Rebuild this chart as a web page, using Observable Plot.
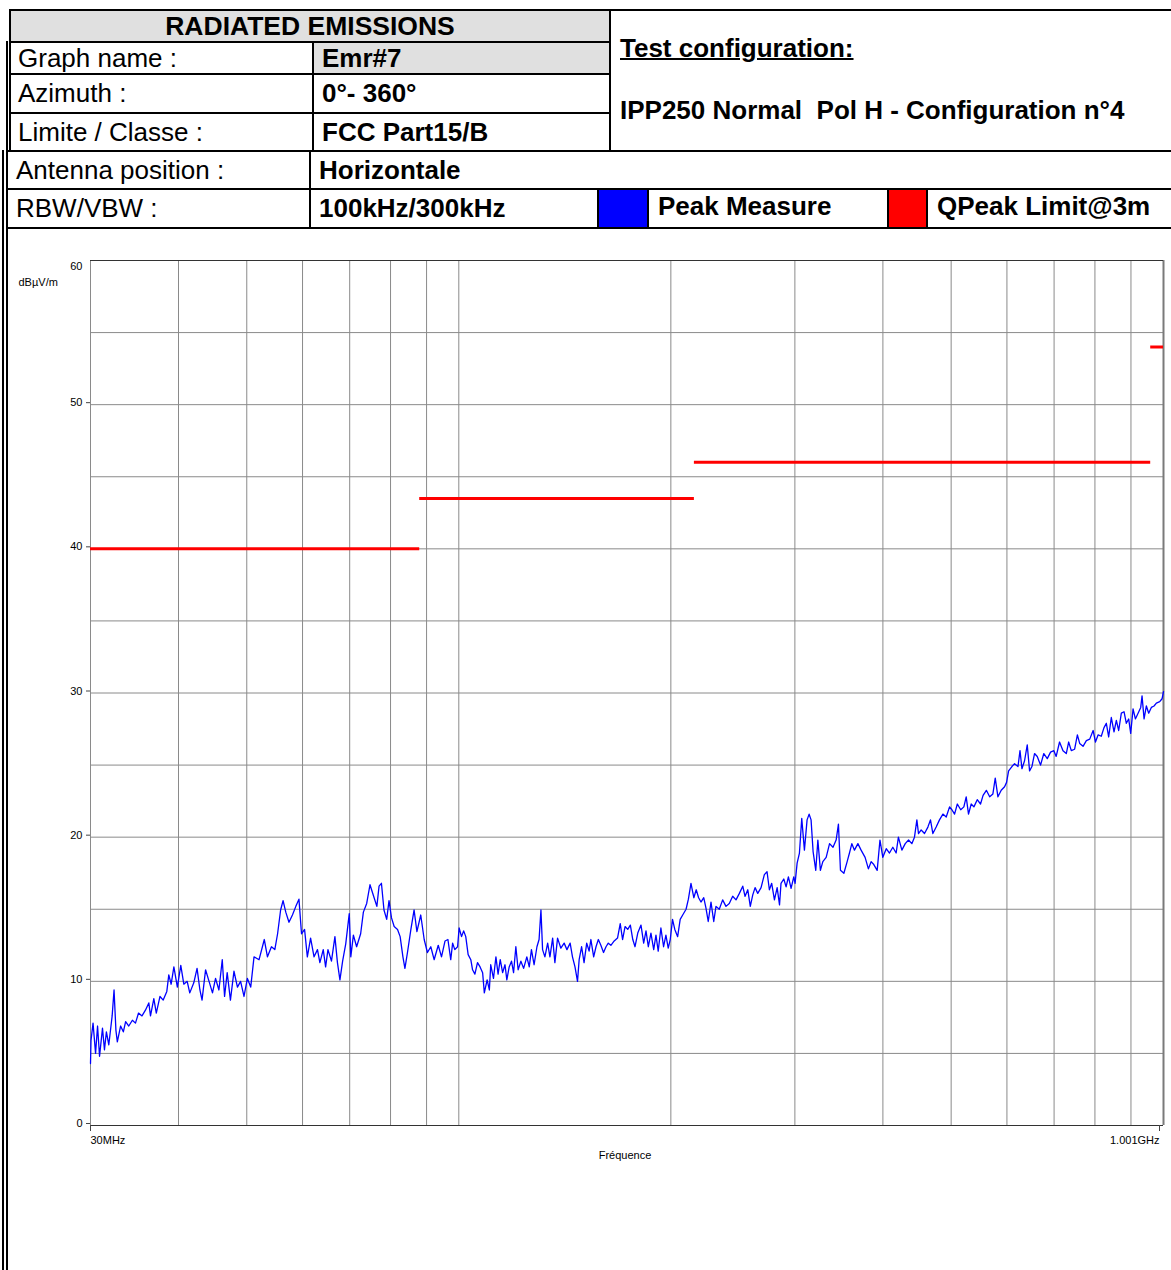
<!DOCTYPE html>
<html>
<head>
<meta charset="utf-8">
<script src="https://cdn.jsdelivr.net/npm/d3@7"></script>
<script src="https://cdn.jsdelivr.net/npm/@observablehq/plot@0.6"></script>
<style>
html, body { margin: 0; padding: 0; background: #fff; }
#page { position: relative; width: 1171px; height: 1270px; overflow: hidden; font-family: "Liberation Sans", Arial, sans-serif; color: #000; }
.c { position: absolute; box-sizing: border-box; border: 2px solid #000; display: flex; align-items: center; font-size: 26px; white-space: pre; overflow: hidden; padding-left: 7px; background: #fff; }
.b { font-weight: bold; }
.g { background: #e0e0e0; }
.v { padding-left: 8px; }
.line { position: absolute; background: #000; }
#chart { position: absolute; left: 0; top: 230px; }
</style>
</head>
<body>
<div id="page">
  <div class="c b g" style="left:9px;top:9px;width:602px;height:34px;justify-content:center;padding-left:0;font-size:26.5px;">RADIATED EMISSIONS</div>
  <div class="c" style="left:9px;top:41px;width:305px;height:34px;">Graph name :</div>
  <div class="c b g v" style="left:312px;top:41px;width:299px;height:34px;">Emr#7</div>
  <div class="c" style="left:9px;top:73px;width:305px;height:41px;">Azimuth :</div>
  <div class="c b v" style="left:312px;top:73px;width:299px;height:41px;">0°- 360°</div>
  <div class="c" style="left:9px;top:112px;width:305px;height:40px;">Limite / Classe :</div>
  <div class="c b v" style="left:312px;top:112px;width:299px;height:40px;">FCC Part15/B</div>
  <div class="c b" style="left:609px;top:9px;width:600px;height:143px;display:block;padding:0;">
    <span style="position:absolute;left:9px;top:22px;text-decoration:underline;text-decoration-thickness:2px;">Test configuration:</span>
    <span style="position:absolute;left:9px;top:84px;">IPP250 Normal  Pol H - Configuration n°4</span>
  </div>
  <div class="line" style="left:6px;top:41px;width:2px;height:111px;"></div>

  <div class="c" style="left:6px;top:150px;width:305px;height:40px;padding-left:8px;">Antenna position :</div>
  <div class="c b v" style="left:309px;top:150px;width:900px;height:40px;">Horizontale</div>
  <div class="c" style="left:6px;top:188px;width:305px;height:41px;padding-left:8px;">RBW/VBW :</div>
  <div class="c b v" style="left:309px;top:188px;width:290px;height:41px;">100kHz/300kHz</div>
  <div class="c" style="left:597px;top:188px;width:52px;height:41px;background:#0000ff;"></div>
  <div class="c b" style="left:647px;top:188px;width:242px;height:41px;padding-left:9px;padding-bottom:4px;">Peak Measure</div>
  <div class="c" style="left:887px;top:188px;width:41px;height:41px;background:#ff0000;"></div>
  <div class="c b" style="left:926px;top:188px;width:300px;height:41px;padding-left:9px;padding-bottom:4px;">QPeak Limit@3m</div>
  <div class="line" style="left:2px;top:150px;width:2px;height:1120px;"></div>
  <div class="line" style="left:6px;top:150px;width:2px;height:1120px;"></div>
  <div id="chart"></div>
</div>
<script>
// Vertical grid frequencies (MHz) and horizontal grid levels (dBµV/m)
const gridFreqs = [40, 50, 60, 70, 80, 90, 100, 200, 300, 400, 500, 600, 700, 800, 900];
const gridLevels = [5, 10, 15, 20, 25, 30, 35, 40, 45, 50, 55];
const levelTicks = [0, 10, 20, 30, 40, 50];
const topTick = [60];
const freqStart = 30;
const freqStop = 1001;
const startLabel = "30MHz";
const stopLabel = "1.001GHz";

// QPeak limit @3m (FCC Part15/B)
const limitFromMHz = [30, 88, 216, 960];
const limitToMHz = [88, 216, 960, 1001];
const limitDb = [40, 43.5, 46, 54];

// Peak Measure trace: [frequency MHz, level dBµV/m]
const peakPoints = [
[30.0,4.3],[30.05,5.9],[30.25,7.1],[30.5,5.0],[30.7,6.9],[30.9,4.8],[31.2,6.75],[31.4,5.25],[31.6,6.5],[31.85,5.6],
[32.2,7.6],[32.4,9.4],[32.6,6.6],[32.75,5.8],[33.1,6.9],[33.4,6.5],[33.65,7.2],[34.0,6.9],[34.4,7.3],[34.75,7.1],
[35.1,7.8],[35.5,7.6],[35.9,8.0],[36.3,8.5],[36.5,7.6],[36.9,8.8],[37.2,7.8],[37.65,8.95],[38.05,8.7],[38.5,9.3],
[38.75,10.45],[39.05,9.8],[39.4,11.0],[39.85,9.6],[40.3,11.1],[40.7,9.8],[41.15,10.0],[41.5,9.2],[42.05,9.9],[42.5,10.9],
[42.9,9.4],[43.2,8.7],[43.7,10.8],[44.2,10.0],[44.7,9.2],[45.15,10.2],[45.65,9.4],[46.15,11.5],[46.5,8.95],[46.9,10.6],
[47.4,8.7],[47.95,10.7],[48.5,9.6],[49.0,10.0],[49.55,8.95],[50.1,10.2],[50.65,9.6],[51.2,11.7],[52.05,11.5],[52.95,12.9],
[53.5,11.7],[54.2,12.4],[54.8,12.2],[55.3,13.3],[55.85,14.95],[56.3,15.6],[56.8,14.8],[57.4,14.1],[58.05,14.6],[58.7,15.2],
[59.3,15.7],[59.8,13.3],[60.4,13.6],[60.95,11.7],[61.6,13.0],[62.3,11.7],[63.0,12.2],[63.5,11.3],[64.2,12.2],[64.7,11.0],
[65.2,12.2],[65.95,11.4],[66.7,13.1],[67.25,11.3],[67.8,10.1],[68.4,11.4],[69.1,12.6],[69.9,14.7],[70.25,11.7],[70.85,13.2],
[71.6,12.4],[72.55,13.3],[73.2,14.8],[74.0,15.4],[74.8,16.7],[75.7,15.9],[76.5,15.2],[77.05,16.6],[77.65,16.8],[78.3,14.95],
[79.0,14.3],[79.6,15.6],[80.25,14.4],[80.95,13.8],[81.85,13.6],[82.55,13.1],[83.3,11.7],[83.85,10.9],[84.55,12.0],[85.5,13.6],
[86.4,14.95],[87.2,13.45],[88.3,14.6],[89.3,12.9],[90.25,12.0],[91.25,12.4],[92.25,11.5],[93.5,12.5],[94.5,11.7],[95.6,12.8],
[96.5,12.9],[97.4,11.5],[98.0,12.65],[98.7,12.2],[99.6,12.4],[100.1,13.7],[100.9,13.1],[101.6,13.5],[102.3,13.1],[103.1,11.85],
[104.0,11.5],[104.6,10.8],[105.4,10.5],[106.3,11.3],[107.2,11.0],[108.1,10.6],[108.7,9.2],[109.7,10.1],[110.5,9.4],[111.0,11.15],
[112.0,10.2],[112.9,11.7],[113.7,10.5],[114.5,11.5],[115.4,10.6],[116.3,11.15],[117.0,10.1],[117.9,11.0],[118.8,11.4],[119.6,10.6],
[120.5,12.4],[121.4,10.8],[122.5,11.4],[123.6,10.9],[124.9,11.7],[125.9,11.0],[126.8,12.2],[127.9,11.15],[129.1,12.4],[130.0,12.9],
[130.8,14.95],[131.5,12.2],[132.5,11.7],[133.7,12.65],[134.7,11.7],[135.9,13.0],[136.9,11.3],[138.1,13.0],[139.6,12.3],[141.1,12.65],
[142.4,12.2],[143.9,12.65],[145.0,11.7],[146.2,11.0],[147.4,10.0],[148.2,11.5],[149.4,12.4],[150.6,11.3],[151.9,12.65],[153.1,12.1],
[154.0,12.9],[155.4,11.7],[156.6,12.4],[157.8,12.9],[159.1,12.5],[160.5,12.0],[161.8,12.4],[163.0,12.65],[164.4,12.5],[166.2,12.8],
[168.0,13.0],[169.5,14.0],[170.8,12.9],[172.2,13.8],[173.7,13.6],[175.2,13.9],[176.6,12.9],[177.9,12.4],[179.5,13.35],[181.4,13.9],
[183.0,12.65],[184.4,13.5],[185.8,12.4],[187.4,13.35],[189.1,12.2],[190.5,13.2],[191.9,12.1],[193.6,13.7],[195.3,12.4],[196.8,13.2],
[198.3,12.3],[199.6,12.9],[201.1,14.3],[202.6,13.6],[204.5,13.1],[206.2,14.3],[207.9,14.6],[210.2,15.0],[211.8,15.7],[213.6,16.8],
[215.6,15.8],[217.3,16.35],[219.0,15.8],[220.7,15.5],[222.7,15.8],[224.3,15.1],[226.0,14.15],[228.05,15.5],[230.1,14.15],[231.8,15.2],
[234.3,15.0],[236.9,15.65],[239.5,15.2],[242.1,15.4],[244.8,15.9],[247.5,15.65],[250.2,16.1],[253.0,16.6],[254.9,15.9],[257.2,16.35],
[259.3,15.2],[261.4,16.0],[263.4,16.5],[265.7,16.1],[268.6,16.5],[271.5,17.4],[273.9,17.6],[276.0,16.35],[278.1,16.8],[280.6,15.65],
[283.1,16.5],[285.3,15.3],[286.7,16.8],[289.3,17.1],[291.5,16.55],[293.7,17.25],[296.3,16.45],[298.9,17.25],[300.2,16.8],[302.2,18.2],
[304.5,18.9],[306.8,21.3],[309.5,19.1],[312.2,21.2],[314.3,21.6],[316.3,21.2],[318.4,19.0],[321.2,17.7],[323.4,19.8],[326.1,17.7],
[328.7,18.3],[332.3,18.6],[336.0,19.55],[339.8,19.3],[343.3,19.8],[345.9,20.9],[348.2,17.7],[352.1,17.5],[355.9,18.3],[358.6,18.9],
[361.4,19.55],[364.5,19.1],[368.6,19.55],[372.5,19.1],[377.4,18.6],[381.5,17.8],[384.9,18.3],[388.3,18.1],[392.6,17.7],[396.2,19.8],
[399.9,18.6],[404.4,19.2],[408.7,18.9],[413.2,19.3],[417.7,18.9],[420.8,20.0],[425.6,19.1],[430.3,19.55],[435.0,19.8],[439.7,19.55],
[443.5,20.0],[447.0,21.2],[449.4,20.25],[453.3,20.5],[458.3,20.25],[463.4,20.7],[467.3,21.2],[471.0,20.25],[476.1,20.7],[481.3,21.2],
[486.7,21.6],[492.0,21.4],[497.4,22.1],[501.2,21.9],[505.6,21.6],[510.2,22.3],[515.9,21.9],[521.2,22.1],[525.2,22.8],[529.2,21.6],
[533.9,22.3],[538.6,22.1],[544.5,22.6],[550.4,22.3],[555.0,22.9],[561.0,23.25],[567.1,22.8],[573.1,23.0],[577.5,24.1],[582.6,22.8],
[588.9,23.25],[595.4,23.5],[599.3,23.8],[603.3,24.6],[609.9,24.9],[615.2,25.1],[622.1,24.9],[626.2,26.0],[630.2,24.75],[635.6,25.3],
[641.2,26.4],[646.1,24.6],[651.1,24.9],[656.7,25.8],[662.5,25.6],[669.7,25.0],[676.9,25.8],[684.6,25.45],[692.0,25.9],[699.5,26.0],
[704.8,25.6],[712.6,26.6],[720.7,26.0],[728.5,25.8],[734.1,26.6],[740.5,26.0],[748.6,26.1],[755.4,27.1],[761.1,26.5],[769.5,26.3],
[777.9,26.7],[786.5,26.8],[795.3,27.4],[801.4,26.6],[808.5,27.1],[816.8,27.0],[824.1,27.6],[830.4,27.9],[836.7,26.95],[844.0,28.3],
[851.5,27.3],[858.0,28.1],[864.6,27.4],[872.1,28.6],[879.8,28.7],[886.5,27.9],[893.3,28.2],[899.2,27.2],[906.2,28.9],[913.1,28.2],
[921.2,28.6],[929.2,29.0],[933.2,29.8],[939.4,28.2],[946.5,29.1],[953.7,28.6],[962.0,29.0],[970.6,29.1],[977.9,29.3],[988.7,29.4],
[996.3,29.6],[1001,30.1]
];

const limits = limitDb.map((db, i) => ({f1: limitFromMHz[i], f2: limitToMHz[i], db}));

const axisStyle = {tickSize: 4, tickPadding: 4, stroke: "#444", fill: "#000", label: null, fontSize: 11};

const chart = Plot.plot({
  width: 1171,
  height: 1040,
  marginLeft: 90,
  marginRight: 8,
  marginTop: 30,
  marginBottom: 145,
  style: {fontFamily: "'Liberation Sans', Arial, sans-serif", fontSize: "11px", background: "transparent", color: "#000"},
  x: {type: "log", domain: [freqStart, freqStop]},
  y: {domain: [0, 60]},
  marks: [
    Plot.ruleX(gridFreqs, {stroke: "#8a8a8a", strokeWidth: 1}),
    Plot.ruleY(gridLevels, {stroke: "#8a8a8a", strokeWidth: 1}),
    Plot.ruleX([freqStart], {stroke: "#8a8a8a", strokeWidth: 1}),
    Plot.ruleX([freqStop], {stroke: "#7a7a7a", strokeWidth: 2}),
    Plot.ruleY([60], {stroke: "#333", strokeWidth: 1}),
    Plot.ruleY([0], {stroke: "#333", strokeWidth: 1}),
    Plot.axisY(levelTicks, {...axisStyle, dy: -2}),
    Plot.axisY(topTick, {...axisStyle, tickSize: 0, tickPadding: 8, dy: 6}),
    Plot.axisX([freqStart], {tickSize: 6, tickPadding: 5, stroke: "#444", fill: "#000", tickFormat: () => startLabel, textAnchor: "start", label: null, fontSize: 11}),
    Plot.axisX([freqStop], {tickSize: 6, tickPadding: 5, stroke: "#444", fill: "#000", tickFormat: () => stopLabel, textAnchor: "end", dx: -4, label: null, fontSize: 11}),
    Plot.text(["Fréquence"], {text: d => d, frameAnchor: "bottom", dy: 33, dx: -2, fontSize: 11, fill: "#000"}),
    Plot.text(["dBµV/m"], {text: d => d, frameAnchor: "top-left", dx: -72, dy: 18, textAnchor: "start", fontSize: 11, fill: "#000"}),
    Plot.ruleY(limits, {y: "db", x1: "f1", x2: "f2", stroke: "#ff0000", strokeWidth: 3}),
    Plot.line(peakPoints, {x: d => d[0], y: d => d[1], stroke: "#0000ff", strokeWidth: 1.3})
  ]
});
document.getElementById("chart").appendChild(chart);
</script>
</body>
</html>
